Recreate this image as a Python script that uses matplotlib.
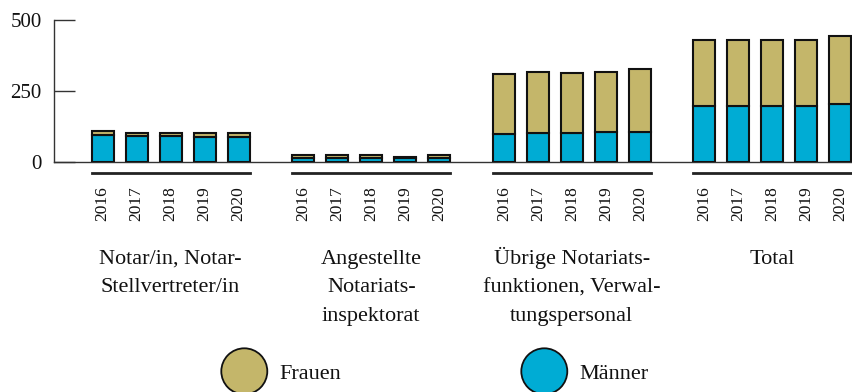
import numpy as np
import matplotlib
matplotlib.use("Agg")
import matplotlib.pyplot as plt
from matplotlib.lines import Line2D
from matplotlib.patches import Circle
from matplotlib.transforms import blended_transform_factory

plt.rcParams["font.family"] = ["Liberation Serif", "DejaVu Serif"]

years = ["2016", "2017", "2018", "2019", "2020"]
categories = [
    "Notar/in, Notar-\nStellvertreter/in",
    "Angestellte\nNotariats-\ninspektorat",
    "Übrige Notariats-\nfunktionen, Verwal-\ntungspersonal",
    "Total",
]
maenner = [
    [97, 93, 93, 88, 88],
    [15, 15, 15, 14, 15],
    [98, 102, 102, 108, 108],
    [199, 199, 199, 199, 205],
]
frauen = [
    [12, 11, 11, 16, 16],
    [10, 10, 10, 6, 10],
    [211, 216, 211, 210, 221],
    [231, 231, 231, 231, 240],
]
y_ticks = [0, 250, 500]

C_FRAUEN = "#C4B66A"
C_MAENNER = "#00ACD4"
EDGE = "#111111"

W, H, DPI = 852, 392, 100
fig = plt.figure(figsize=(W / DPI, H / DPI), dpi=DPI)
ax = fig.add_axes([54.3 / W, 1 - 162.3 / H, 1 - 54.3 / W, (162.3 - 20) / H])

group_step = 5.9
bar_w = 0.65
n = len(years)

for g in range(len(categories)):
    x = g * group_step + np.arange(n)
    ax.bar(x, maenner[g], width=bar_w, color=C_MAENNER, edgecolor=EDGE, linewidth=1.5, zorder=3)
    ax.bar(x, frauen[g], bottom=maenner[g], width=bar_w, color=C_FRAUEN,
           edgecolor=EDGE, linewidth=1.5, zorder=3)

last = (len(categories) - 1) * group_step + n - 1
ax.set_xlim(-1.42, last + 0.34)
ax.set_ylim(0, 500)
ax.set_yticks(y_ticks)
ax.set_yticklabels([str(v) for v in y_ticks])
ax.set_xticks([])
ax.tick_params(axis="y", direction="in", length=15, width=1.0, pad=9,
               labelsize=15, color="#333333", labelcolor="#111111")
for s in ("top", "right"):
    ax.spines[s].set_visible(False)
ax.spines["left"].set_color("#333333")
ax.spines["bottom"].set_color("#333333")
ax.spines["left"].set_linewidth(1.0)
ax.spines["bottom"].set_linewidth(1.0)

# group underline, year labels and category names below the axis
tr = blended_transform_factory(ax.transData, fig.transFigure)
for g, cat in enumerate(categories):
    x0 = g * group_step
    x = x0 + np.arange(n)
    fig.add_artist(Line2D([x0 - bar_w / 2, x0 + n - 1 + bar_w / 2],
                          [1 - 172.7 / H] * 2, transform=tr, color="#222222", lw=2.0))
    for xi, yr in zip(x, years):
        fig.text(xi, 1 - 186 / H, yr, transform=tr, rotation=90, ha="center", va="top",
                 fontsize=12.5, color="#111111")
    for k, line in enumerate(cat.split("\n")):
        fig.text(x0 + (n - 1) / 2, 1 - (263.7 + 28.7 * k) / H, line, transform=tr,
                 ha="center", va="baseline", fontsize=16, color="#111111")

# legend: circles with labels
for cx, color, label in [(244.3, C_FRAUEN, "Frauen"), (544.3, C_MAENNER, "Männer")]:
    fig.add_artist(Circle((cx / DPI, (H - 371.3) / DPI), 23 / DPI,
                          transform=fig.dpi_scale_trans, facecolor=color,
                          edgecolor=EDGE, linewidth=1.3))
    fig.text((cx + 35) / W, 1 - 379.3 / H, label, ha="left", va="baseline",
             fontsize=16, color="#111111")

fig.savefig("out.png", dpi=DPI)
